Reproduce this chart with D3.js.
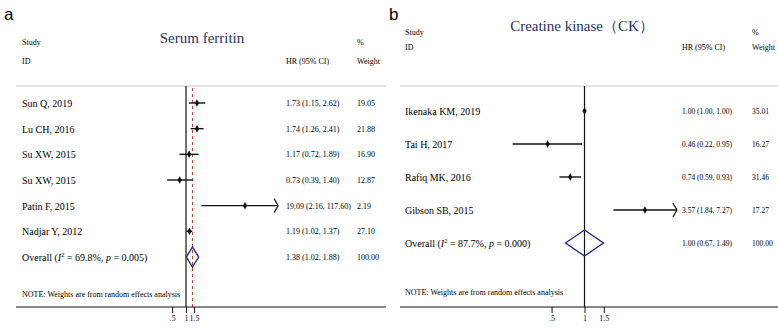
<!DOCTYPE html>
<html>
<head>
<meta charset="utf-8">
<script src="https://cdn.jsdelivr.net/npm/d3@7"></script>
<style>
  body { margin: 0; background: #fff; }
  svg text { font-family: "Liberation Serif", "Times New Roman", serif; }
</style>
</head>
<body>
<div id="chart"></div>
<script>
// panel a: serum ferritin
var sfStudies = ["Sun Q, 2019", "Lu CH, 2016", "Su XW, 2015", "Su XW, 2015", "Patin F, 2015", "Nadjar Y, 2012"];
var sfHR = [1.73, 1.74, 1.17, 0.73, 19.09, 1.19];
var sfLow = [1.15, 1.26, 0.72, 0.39, 2.16, 1.02];
var sfHigh = [2.62, 2.41, 1.89, 1.40, 117.60, 1.37];
var sfWeight = ["19.05", "21.88", "16.90", "12.87", "2.19", "27.10"];
var sfOverall = {hr: 1.38, lo: 1.02, hi: 1.88, i2: "69.8%", p: "0.005", w: "100.00"};

// panel b: creatine kinase
var ckStudies = ["Ikenaka KM, 2019", "Tai H, 2017", "Rafiq MK, 2016", "Gibson SB, 2015"];
var ckHR = [1.00, 0.46, 0.74, 3.57];
var ckLow = [1.00, 0.22, 0.59, 1.84];
var ckHigh = [1.00, 0.95, 0.93, 7.27];
var ckWeight = ["35.01", "16.27", "31.46", "17.27"];
var ckOverall = {hr: 1.00, lo: 0.67, hi: 1.49, i2: "87.7%", p: "0.000", w: "100.00"};

var tickVals = [0.5, 1, 1.5];
var tickLabels = [".5", "1", "1.5"];

var W = 778, H = 330;
var svg = d3.select("#chart").append("svg").attr("width", W).attr("height", H);

var fmt = d3.format(".2f");

function drawPanel(p) {
	var g = svg.append("g");
	var x = d3.scaleLog().domain(p.domain).range(p.range).clamp(true);
	var y = d3.scalePoint().domain(d3.range(p.studies.length + 1)).range(p.rows);

	g.append("text").attr("x", p.letterX).attr("y", 20)
		.style("font-family", "Liberation Sans, Arial, sans-serif")
		.style("font-size", "17px").text(p.letter);

	g.append("text").attr("x", p.titleX).attr("y", p.titleY)
		.attr("text-anchor", "middle")
		.style("font-size", "15px").style("fill", "#27325f")
		.text(p.title);

	// header
	g.append("text").attr("x", p.labX).attr("y", p.hy1).style("font-size", "8px").text("Study");
	g.append("text").attr("x", p.labX).attr("y", p.hy2).style("font-size", "8px").text("ID");
	g.append("text").attr("x", p.hrX).attr("y", p.hy2).style("font-size", "8px").text("HR (95% CI)");
	g.append("text").attr("x", p.wX).attr("y", p.hy1).style("font-size", "8px").text("%");
	g.append("text").attr("x", p.wX).attr("y", p.hy2).style("font-size", "8px").text("Weight");

	g.append("line").attr("x1", p.lineX[0]).attr("x2", p.lineX[1])
		.attr("y1", 86).attr("y2", 86)
		.style("stroke", "#c8c8c8").style("stroke-width", 1);

	// null line + overall line
	g.append("line").attr("x1", x(1)).attr("x2", x(1)).attr("y1", 86).attr("y2", 307)
		.style("stroke", "#111").style("stroke-width", 1.2);
	if (p.overall.hr !== 1) {
		g.append("line").attr("x1", x(p.overall.hr)).attr("x2", x(p.overall.hr))
			.attr("y1", 88).attr("y2", 307)
			.style("stroke", "#c0392b").style("stroke-width", 1)
			.style("stroke-dasharray", "3,3");
	}

	// studies
	p.studies.forEach(function(s, i) {
		var yy = y(i);
		g.append("text").attr("x", p.labX).attr("y", yy + 4)
			.style("font-size", "10px").text(s);
		var lo = p.lo[i], hi = p.hi[i];
		g.append("line").attr("x1", x(lo)).attr("x2", x(hi)).attr("y1", yy).attr("y2", yy)
			.style("stroke", "#111").style("stroke-width", 1.4);
		if (hi > p.domain[1]) {
			var ax = x(p.domain[1]);
			g.append("path")
				.attr("d", "M" + (ax - 4) + "," + (yy - 7) + "L" + ax + "," + yy + "L" + (ax - 4) + "," + (yy + 7))
				.style("fill", "none").style("stroke", "#111").style("stroke-width", 1.2);
		}
		g.append("path")
			.attr("transform", "translate(" + x(p.hr[i]) + "," + yy + ")")
			.attr("d", d3.symbol().type(d3.symbolDiamond).size(16)())
			.style("fill", "#111");
		g.append("text").attr("x", p.hrX).attr("y", yy + 3)
			.style("font-size", p.valSize).text(fmt(p.hr[i]) + " (" + fmt(lo) + ", " + fmt(hi) + ")");
		g.append("text").attr("x", p.wX).attr("y", yy + 3)
			.style("font-size", p.valSize).text(p.weight[i]);
	});

	// overall
	var n = p.studies.length, oy = y(n), o = p.overall;
	var ot = g.append("text").attr("x", p.labX).attr("y", oy + 4).style("font-size", "10px");
	ot.append("tspan").text("Overall (");
	ot.append("tspan").style("font-style", "italic").text("I");
	ot.append("tspan").attr("dy", -4).style("font-size", "6.5px").text("2");
	ot.append("tspan").attr("dy", 4).text(" = " + o.i2 + ", ");
	ot.append("tspan").style("font-style", "italic").text("p");
	ot.append("tspan").text(" = " + o.p + ")");
	g.append("path")
		.attr("d", "M" + x(o.lo) + "," + oy + "L" + x(o.hr) + "," + (oy - p.dh) +
			"L" + x(o.hi) + "," + oy + "L" + x(o.hr) + "," + (oy + p.dh) + "Z")
		.style("fill", "none").style("stroke", "#1f2a78").style("stroke-width", 1.4);
	g.append("text").attr("x", p.hrX).attr("y", oy + 3)
		.style("font-size", p.valSize).text(fmt(o.hr) + " (" + fmt(o.lo) + ", " + fmt(o.hi) + ")");
	g.append("text").attr("x", p.wX).attr("y", oy + 3)
		.style("font-size", p.valSize).text(o.w);

	g.append("text").attr("x", p.labX).attr("y", p.noteY)
		.style("font-size", "8px").text("NOTE: Weights are from random effects analysis");

	// axis
	g.append("line").attr("x1", p.lineX[0]).attr("x2", p.lineX[1]).attr("y1", 307).attr("y2", 307)
		.style("stroke", "#111").style("stroke-width", 1);
	var ax = g.append("g").attr("transform", "translate(0,307)")
		.call(d3.axisBottom(x).tickValues(tickVals).tickSize(6)
			.tickFormat(function(d, i) { return tickLabels[i]; }));
	ax.select(".domain").remove();
	ax.selectAll("line").style("stroke", "#111");
	ax.selectAll("text").attr("dy", "0.6em")
		.style("font-family", "Liberation Serif, serif").style("font-size", "8px").style("fill", "#111");
}

drawPanel({
	letter: "a", letterX: 4, title: "Serum ferritin", titleX: 202, titleY: 43,
	studies: sfStudies, hr: sfHR, lo: sfLow, hi: sfHigh, weight: sfWeight, overall: sfOverall,
	domain: [0.3, 100], range: [186 + 20 * Math.log(0.3), 186 + 20 * Math.log(100)],
	rows: [103, 257], dh: 10,
	labX: 22, hrX: 286, wX: 357, hy1: 45, hy2: 64, valSize: "8px",
	lineX: [16, 386], noteY: 297
});

drawPanel({
	letter: "b", letterX: 389, title: "Creatine kinase（CK）", titleX: 582, titleY: 31,
	studies: ckStudies, hr: ckHR, lo: ckLow, hi: ckHigh, weight: ckWeight, overall: ckOverall,
	domain: [0.2, 7], range: [584.5 + 47.5 * Math.log(0.2), 584.5 + 47.5 * Math.log(7)],
	rows: [111, 243], dh: 13,
	labX: 405, hrX: 682, wX: 752, hy1: 35, hy2: 50, valSize: "7.5px",
	lineX: [400, 778], noteY: 295
});
</script>
</body>
</html>
